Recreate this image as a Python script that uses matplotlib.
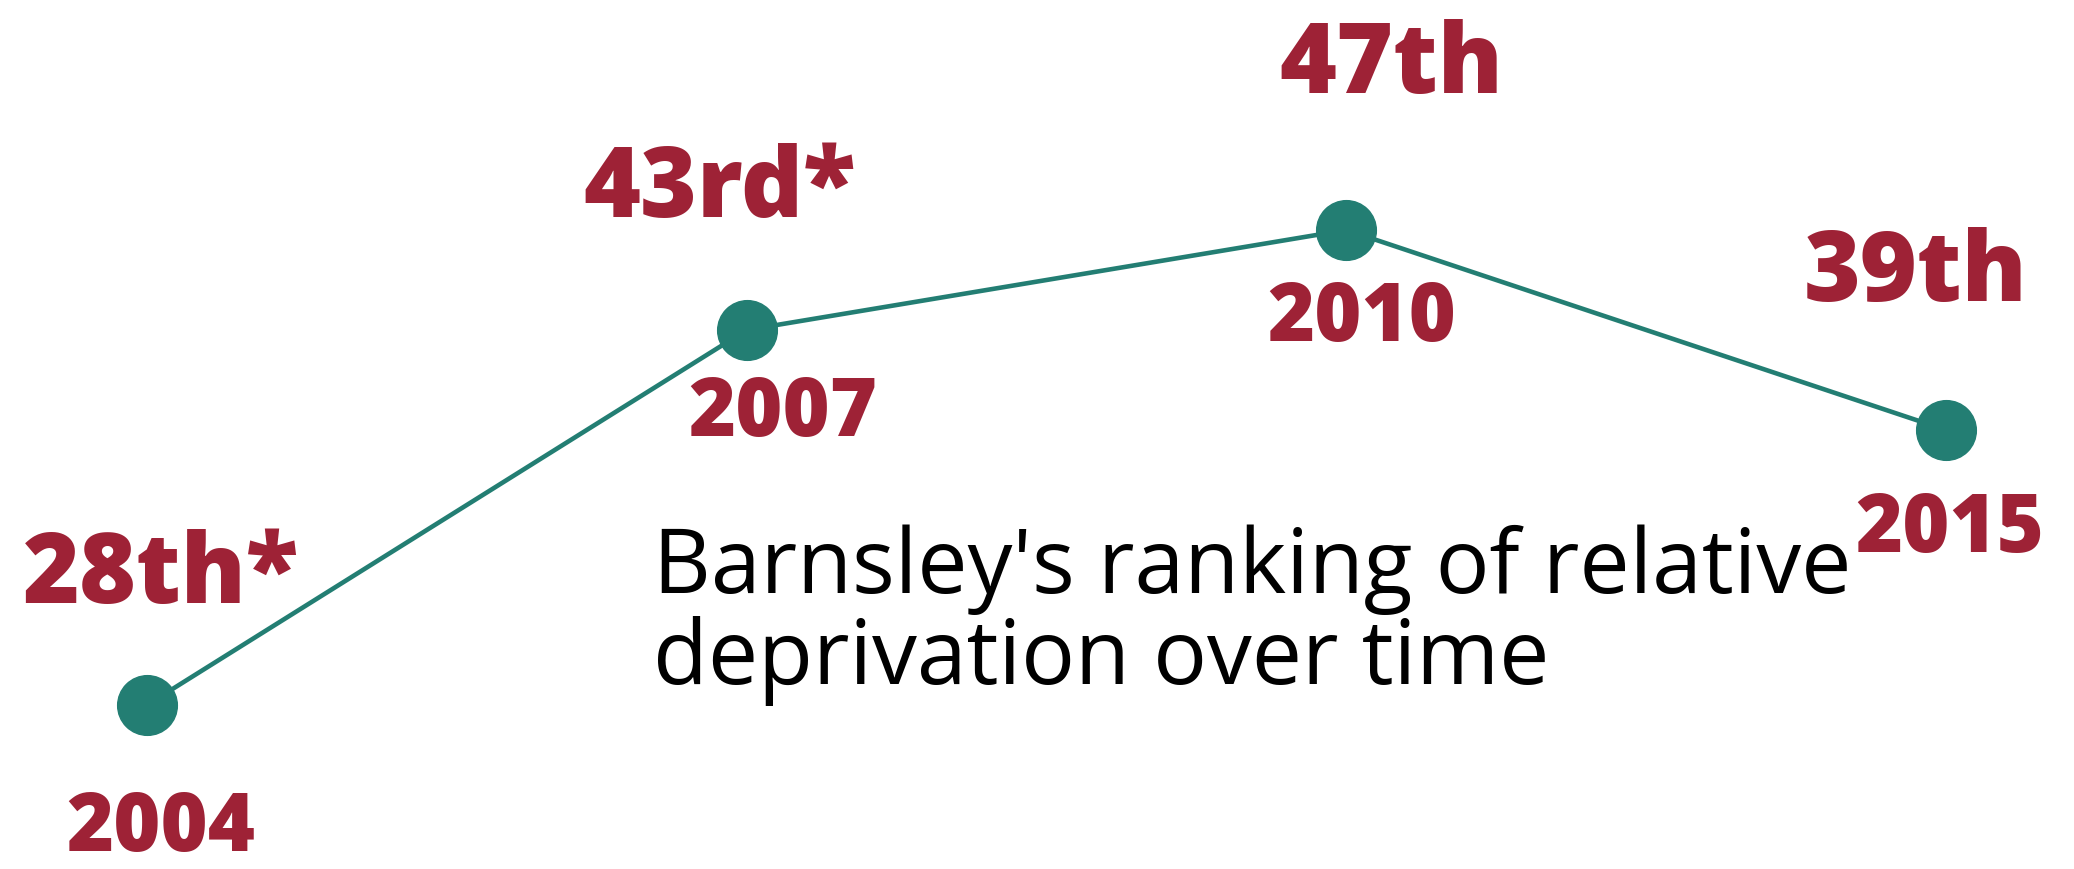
import matplotlib
matplotlib.use('Agg')
import matplotlib.pyplot as plt

years = ['2004', '2007', '2010', '2015']
ranks = [28, 43, 47, 39]
rank_labels = ['28th*', '43rd*', '47th', '39th']

teal = '#237e73'
red = '#9e2236'

# label offsets in pixels from each point (rank label, year label)
rank_off = [(14, 128), (-27, 140), (45, 164), (-31, 155)]
year_off = [(14, -124), (36, -84), (15, -89), (4, -100)]

fig = plt.figure(figsize=(20.74, 8.7), dpi=100)
ax = fig.add_axes([0, 0, 1, 1])
ax.set_xlim(-0.245, 3.2133)
ax.set_ylim(21.44, 56.24)
ax.axis('off')

xs = list(range(len(years)))
ax.plot(xs, ranks, color=teal, lw=3.3, zorder=1)
ax.plot(xs, ranks, 'o', color=teal, ms=43, zorder=2)

for i in xs:
  ax.annotate(rank_labels[i], (xs[i], ranks[i]), xytext=rank_off[i],
              textcoords='offset pixels', ha='center', va='center',
              color=red, fontsize=70, fontweight='heavy',
              family=['Open Sans', 'DejaVu Sans'])
  ax.annotate(years[i], (xs[i], ranks[i]), xytext=year_off[i],
              textcoords='offset pixels', ha='center', va='center',
              color=red, fontsize=58, fontweight='heavy',
              family=['Open Sans', 'DejaVu Sans'])

fig.text(653 / 2074, 1 - 684 / 870, "Barnsley's ranking of relative\ndeprivation over time",
         ha='left', va='baseline', fontsize=64.5, color='black',
         family=['Open Sans', 'DejaVu Sans'], linespacing=1.0)

fig.savefig('out.png', dpi=100)
